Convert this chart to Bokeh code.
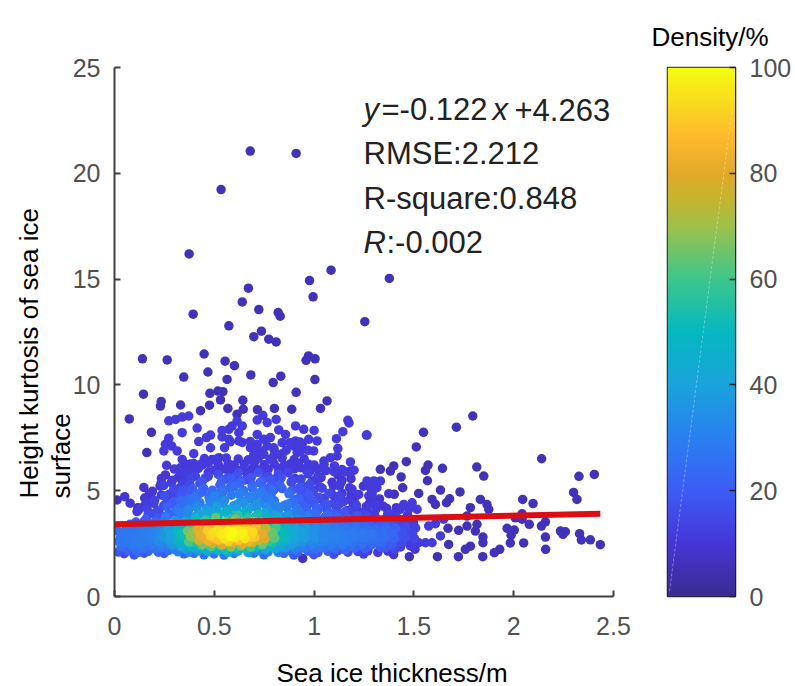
import numpy as np
from bokeh.embed import file_html
from bokeh.layouts import row
from bokeh.models import ColumnDataSource, FixedTicker, Label, LinearColorMapper, Range1d, LinearAxis, Title
from bokeh.plotting import figure
from bokeh.resources import INLINE
from bokeh.transform import transform

FONT = "Liberation Sans"

# Sparse outliers (deep purple)
outer_x = [.68,.91,.534,.374,1.085,.977,1.377,.671,.995,.64,.723,.394,.82,.83,.573,1.254,.736,.698,.773,.81,
           .14,.264,.449,.554,.601,.468,.347,.564,.683,.833,.795,.972,.96,1.005,1.004,.145,.91,.478,.518,.543,
           .531,.643,.234,.23,.331,.476,.431,.568,.645,.614,.716,.801,.888,1.065,1.032,.074,.185,.162,
           1.795,1.713,1.548,1.265,1.512,1.462,1.332,1.399,1.382,1.436,1.571,1.558,1.568,1.643,1.815,1.85,2.14,2.327,2.404,
           1.633,1.731,1.444,1.402,1.524,2.30,2.317,2.045,2.097,1.833,1.866,1.591,1.608,1.679,1.663,1.783,1.875,1.766,
           2.042,2.008,2.042,2.159,2.139,2.078,1.967,2.003,1.987,1.983,2.05,2.159,2.16,2.234,2.259,2.247,2.33,2.339,2.384,2.434,
           1.93,1.903,1.846,1.846,1.845,1.783,1.758,1.723,1.618,.943,.013,.172,.26,.117,1.477,1.671,1.674,1.724,1.766,1.808,1.816]
outer_y = [21.05,20.94,19.23,16.19,15.42,14.93,15.03,14.57,14.16,13.92,13.56,13.34,13.42,13.25,12.79,12.99,12.54,12.28,12.16,12.03,
           11.23,11.18,11.46,11.12,10.91,10.61,10.37,10.26,10.47,10.41,10.11,11.37,11.16,11.23,10.25,9.56,9.65,9.6,9.71,9.68,
           9.29,9.27,9.21,9.0,9.05,9.04,8.78,8.89,8.85,8.61,8.83,8.89,8.85,9.24,8.89,8.39,7.76,6.8,
           8.53,8.0,7.76,7.63,7.07,6.37,6.01,6.17,5.93,5.65,6.21,5.96,5.47,6.06,6.12,5.69,6.51,5.68,5.77,
           5.03,4.94,5.14,4.83,4.87,4.92,4.59,4.59,4.39,4.59,4.35,4.59,4.35,4.62,4.43,4.2,4.12,3.8,
           3.91,3.72,3.65,3.53,3.33,3.41,3.22,3.14,2.9,2.53,2.53,2.81,2.23,3.09,3.06,2.94,2.97,2.67,2.68,2.45,
           2.23,2.07,2.81,2.54,1.88,2.38,2.23,1.88,1.88,1.8,4.56,4.64,4.67,4.2,1.88,3.22,2.46,3.13,3.33,3.09,3.41]

# Upper cloud (violet blue)
upper_x = [.372,.339,.306,.272,.743,.715,.765,.81,.614,.589,.64,1.169,1.175,.339,.414,.573,.539,.623,.907,.948,1.0,.823,.857,
           1.144,1.262,1.112,.481,.461,.539,.573,.623,.422,.715,.748,.781,.272,.255,.287,.247,.314,.481,.551,.681,.715,.765,.798,.84,
           .907,.94,.973,1.015,.915,.998,.898,1.119,.698,.748,.798,.84,.397,1.082,1.049,1.115,.523,.489,.339,.356,.331,.261,.397,.431,
           1.182,1.182,1.102,.973,.932,.234,1.332,1.299,1.265,1.282,1.315,1.29,1.307,1.265,1.491,1.449,1.432,1.474,1.516,
           1.574,1.608,1.649,1.558,1.524,1.591,1.633,1.482,1.482,
           .45,.5,.56,.62,.67,.72,.78,.84,.9,.95,
           .38,.44,.47,.52,.57,.6,.65,.7,.75,.8,.85,.88,.92,1.0,1.05,
           .3,.36,.42,.5,.55,.58,.63,.69,.73,.77,.82,.87,.9,.96,1.02,1.06,1.14,1.2,
           .33,.4,.47,.52,.6,.66,.71,.76,.83,.98,1.1,1.16,
           .58,.64,.68,.88,.93,.7,.74,.8,.86,.93,.97]
upper_y = [8.53,8.48,8.37,8.3,8.56,8.34,8.22,8.37,8.29,8.06,8.06,8.33,8.2,7.74,7.96,7.9,7.85,7.74,8.06,7.9,7.85,7.87,7.66,
           7.79,7.63,7.46,7.63,7.51,7.54,7.43,7.35,7.32,7.66,7.43,7.51,7.48,7.19,7.11,6.88,6.88,7.03,7.03,7.03,7.19,7.11,7.03,7.27,
           7.35,7.19,7.43,7.35,6.8,6.88,7.11,6.99,6.72,6.72,6.64,6.75,6.75,6.56,6.4,6.64,6.56,6.48,6.48,6.25,6.09,6.2,6.28,6.25,
           6.36,5.93,6.17,6.25,6.09,5.38,5.46,5.46,5.46,5.14,5.14,4.83,4.35,4.2,4.43,4.35,4.12,4.12,4.12,
           3.33,3.44,3.65,2.54,2.54,2.54,2.86,3.25,2.86,
           6.52,6.48,6.55,6.5,6.46,6.53,6.49,6.54,6.47,6.51,
           6.26,6.22,6.29,6.24,6.28,6.21,6.25,6.3,6.23,6.27,6.2,6.26,6.29,6.22,6.25,
           6.02,5.98,6.05,5.97,6.03,6.0,5.96,6.04,5.99,6.01,6.06,5.97,6.03,5.98,6.02,5.95,6.0,5.97,
           5.88,5.92,5.86,5.9,5.93,5.87,5.91,5.89,5.85,5.92,5.9,5.88,
           7.31,7.28,7.33,7.27,7.3,6.92,6.88,6.93,6.9,6.87,6.91]

OUTER_DENSITY = [6]
UPPER_DENSITY = [11]

# Dense cloud: density read at sample places, 0 where the page shows white
core_x = [.05,.10,.15,.20,.25,.30,.35,.40,.45,.50,.55,.60,.65,.70,.75,.80,.85,.90,.95,1.0,1.05,1.1,1.15,1.2,1.25,1.3,1.35,1.4,1.45,1.5]
core_y = [5.75,5.5,5.25,5.0,4.75,4.5,4.25,4.0,3.75,3.5,3.25,3.0,2.75,2.5,2.25,2.0]
core_x_nudge = [.02,-.015,.028,-.01,.024,-.022,.012,-.028,.018,-.006,.022,-.016,.008,-.02,.014,-.004]
core_y_nudge = [.06,-.09,.11,-.03,.08,-.12,.04,.1,-.07,.02,-.11,.09,-.04,.12,-.08,.03,.1,-.1,.05,-.06,.12,-.02,-.11,.07,.01,-.09,.11,-.05,.08,-.03]
core_density = [
 [0,0,0,0,0,10,12,0,14,16,16,17,0,17,16,15,14,0,13,12,0,10,0,0,0,0,0,0,0,0],
 [0,0,0,0,9,11,0,14,18,0,20,20,20,18,0,18,17,15,14,0,11,0,10,9,0,0,0,0,0,0],
 [0,0,0,9,0,13,16,17,0,21,23,23,0,23,21,21,0,18,16,13,0,11,10,0,10,0,0,0,0,0],
 [0,0,0,10,0,14,17,20,22,24,26,0,28,26,26,24,22,0,17,16,14,0,11,11,0,10,0,0,0,0],
 [0,0,9,0,12,16,20,24,26,28,0,30,30,30,28,0,26,22,19,16,15,14,0,11,10,0,9,0,0,0],
 [0,9,0,10,0,18,24,26,28,30,32,0,34,32,32,30,0,24,21,18,16,0,14,11,0,10,9,0,0,0],
 [0,0,12,0,14,21,26,30,32,34,36,36,36,36,34,32,30,27,0,21,18,16,0,14,11,10,0,9,0,0],
 [0,0,12,14,16,23,29,33,36,40,42,43,43,40,38,36,32,29,27,23,20,18,16,14,12,11,0,10,0,0],
 [0,0,16,18,21,27,33,39,45,51,55,57,57,53,49,43,37,33,30,26,24,22,20,18,16,14,12,13,10,0],
 [0,0,20,23,26,32,40,50,60,68,74,78,76,70,60,50,42,37,33,30,28,26,24,22,20,18,17,15,12,10],
 [24,26,27,29,32,38,48,64,78,86,92,95,93,86,74,60,48,41,37,34,31,29,27,26,25,24,23,21,16,13],
 [27,28,29,31,35,41,53,69,83,93,97,100,98,93,81,65,51,44,39,35,32,31,30,29,28,27,25,23,17,14],
 [28,29,30,31,35,41,51,67,81,89,95,97,95,89,79,63,51,42,38,35,32,31,30,29,27,26,25,22,17,14],
 [27,28,29,29,32,37,45,55,67,75,79,81,81,75,65,53,43,38,34,31,30,29,28,27,25,24,23,19,15,12],
 [22,25,26,26,26,30,37,42,47,51,53,55,53,49,43,39,36,30,27,26,25,24,23,22,20,0,18,15,0,10],
 [14,18,18,0,18,0,22,24,26,26,28,28,0,26,24,0,22,18,0,18,0,16,0,0,13,0,0,10,0,0],
]

# Second reading, between the first one's places
core2_x = [.025,.075,.125,.175,.225,.275,.325,.375,.425,.475,.525,.575,.625,.675,.725,.775,.825,.875,.925,.975,1.025,1.075,1.125,1.175,1.225,1.275,1.325,1.375,1.425,1.475]
core2_y = [5.625,5.375,5.125,4.875,4.625,4.375,4.125,3.875,3.625,3.375,3.125,2.875,2.625,2.375,2.125]
core2_density = [
 [0,0,0,0,0,9,0,11,13,14,0,16,15,15,0,14,13,0,12,0,10,0,0,0,0,0,0,0,0,0],
 [0,0,0,0,9,11,13,0,17,0,20,21,0,20,19,18,0,15,0,12,0,10,9,0,0,0,0,0,0,0],
 [0,0,0,9,0,13,15,18,0,22,0,24,25,24,0,22,20,0,16,14,12,0,10,0,0,9,0,0,0,0],
 [0,0,0,10,12,0,18,0,23,25,27,28,29,0,27,25,0,20,17,15,0,12,0,10,0,0,0,0,0,0],
 [0,9,0,10,13,17,0,25,27,0,31,32,0,31,30,28,25,0,20,17,15,13,11,0,10,0,0,0,0,0],
 [0,0,11,12,15,20,25,28,0,32,34,35,35,34,0,31,28,25,21,19,17,15,13,12,0,10,9,0,0,0],
 [0,0,11,13,15,21,27,31,34,37,39,39,39,38,36,33,30,27,25,21,19,17,15,13,11,10,0,9,0,0],
 [0,0,0,16,18,23,29,35,40,45,48,49,49,47,43,39,33,30,27,24,22,20,18,16,14,12,0,11,0,0],
 [0,0,18,20,23,29,36,44,52,59,64,66,65,61,54,46,39,34,30,27,25,23,21,19,17,15,13,12,10,0],
 [0,22,24,26,29,35,44,56,68,77,83,86,85,78,67,55,45,38,34,31,29,27,25,24,22,21,20,18,14,11],
 [26,27,28,30,33,39,50,66,81,90,95,98,96,89,78,62,49,42,37,34,31,29,28,27,26,25,24,22,16,13],
 [27,28,29,31,35,41,52,68,83,91,96,99,97,91,80,64,51,43,38,35,32,30,29,28,27,26,24,22,17,14],
 [27,28,29,30,33,39,48,61,75,83,88,90,89,83,73,59,47,40,36,33,31,30,29,28,26,25,24,20,15,12],
 [25,26,27,27,29,34,41,48,57,63,66,67,67,61,54,46,39,34,30,28,27,26,25,24,22,20,19,17,12,10],
 [18,21,22,22,22,26,30,33,37,39,41,42,40,38,34,30,29,24,21,21,19,19,16,15,14,12,11,10,0,0],
]

fit_x = [0.0, 2.434]
fit_y = [3.41, 3.91]

x_ticks = [0, 0.5, 1, 1.5, 2, 2.5]
x_tick_labels = {0: "0", 0.5: "0.5", 1: "1", 1.5: "1.5", 2: "2", 2.5: "2.5"}
y_ticks = [0, 5, 10, 15, 20, 25]
bar_ticks = [0, 20, 40, 60, 80, 100]

# Colour scale
stop_pos = [0, 10, 20, 30, 40, 50, 60, 70, 75, 80, 87, 93, 100]
stop_rgb = [(59,44,143),(70,54,216),(61,92,245),(42,128,240),(26,163,220),(5,184,192),
            (60,198,140),(156,194,74),(196,181,46),(224,170,40),(255,185,44),(248,216,32),(246,251,16)]
lvl = np.linspace(0, 100, 256)
rgb = np.array(stop_rgb, dtype=float)
palette = ["#%02x%02x%02x" % tuple(int(round(np.interp(v, stop_pos, rgb[:, i]))) for i in range(3)) for v in lvl]
mapper = LinearColorMapper(palette=palette, low=0, high=100)

xs, ys, ds = [], [], []
for xv, yv in zip(outer_x, outer_y):
    xs.append(xv); ys.append(yv); ds.append(OUTER_DENSITY[0])
for xv, yv in zip(upper_x, upper_y):
    xs.append(xv); ys.append(yv); ds.append(UPPER_DENSITY[0])
for r, (yv, vals) in enumerate(zip(core_y, core_density)):
    for c, (xv, d) in enumerate(zip(core_x, vals)):
        if d > 0:
            k = 1.0 if yv > 3.6 else 0.4
            xs.append(xv + core_x_nudge[r] * k); ys.append(yv + core_y_nudge[c] * k); ds.append(d)
for r, (yv, vals) in enumerate(zip(core2_y, core2_density)):
    for c, (xv, d) in enumerate(zip(core2_x, vals)):
        if d > 0:
            k = 1.0 if yv > 3.6 else 0.4
            xs.append(xv - core_x_nudge[r] * k); ys.append(yv - core_y_nudge[c] * k); ds.append(d)
order = np.argsort(ds, kind="stable")
src = ColumnDataSource(dict(x=np.array(xs)[order], y=np.array(ys)[order], d=np.array(ds)[order]))

TICK = "#505050"
HEIGHT = 686
FRAME_BOTTOM = 596
P_LEFT = 114
Q_LEFT = 667
p = figure(width=648, height=HEIGHT, frame_width=499, frame_height=529,
           output_backend="svg", toolbar_location=None,
           x_range=Range1d(0, 2.5), y_range=Range1d(0, 25),
           min_border_left=114, min_border_right=35, min_border_top=67, min_border_bottom=HEIGHT - FRAME_BOTTOM)
p.grid.visible = False
p.outline_line_color = None
p.background_fill_color = "white"

p.scatter("x", "y", source=src, size=9.5, line_color=None,
          fill_color=transform("d", mapper))
p.line(fit_x, fit_y, line_color="#dc0e14", line_width=6)

for ax in (p.xaxis[0], p.yaxis[0]):
    ax.axis_line_color = "#404040"
    ax.axis_line_width = 2
    ax.major_tick_line_color = "#404040"
    ax.major_tick_line_width = 2
    ax.major_tick_in = 6
    ax.major_tick_out = 0
    ax.minor_tick_line_color = None
    ax.major_label_text_font = FONT
    ax.major_label_text_font_size = "25px"
    ax.major_label_text_color = TICK

p.xaxis[0].ticker = FixedTicker(ticks=x_ticks)
p.xaxis[0].major_label_overrides = x_tick_labels
p.xaxis[0].major_label_standoff = 20
p.yaxis[0].ticker = FixedTicker(ticks=y_ticks)
p.yaxis[0].major_label_standoff = 14


def lab(fig, left, text, px, py, size, style="normal", color="#222222"):
    # px, py are places on the page; annotations count from the frame's lower left corner
    fig.add_layout(Label(x=px - left, y=FRAME_BOTTOM - py, x_units="screen", y_units="screen", text=text,
                         text_font=FONT, text_font_size=size, text_font_style=style,
                         text_color=color, text_baseline="alphabetic"))


def side_title(fig, text, side, offset, standoff, size="26px"):
    fig.add_layout(Title(text=text, align="left", offset=offset, standoff=standoff,
                         text_font=FONT, text_font_size=size, text_font_style="normal",
                         text_color="black"), side)


side_title(p, "Sea ice thickness/m", "below", 162, 36)
side_title(p, "surface", "left", 98, -13)
side_title(p, "Height kurtosis of sea ice", "left", 98, 13)

fs = "31px"
lab(p, P_LEFT, "y", 363, 109, fs, "italic")
lab(p, P_LEFT, "=-0.122", 381, 109, fs)
lab(p, P_LEFT, "x", 492, 109, fs, "italic")
lab(p, P_LEFT, "+4.263", 514, 109, fs)
lab(p, P_LEFT, "RMSE:2.212", 363, 153, fs)
lab(p, P_LEFT, "R-square:0.848", 363, 198, fs)
lab(p, P_LEFT, "R", 363, 242, fs, "italic")
lab(p, P_LEFT, ":-0.002", 386, 242, fs)

# Colour bar as its own small panel
bar_levels = np.linspace(0, 100, 256).reshape(-1, 1)
q = figure(width=147, height=HEIGHT, frame_width=68, frame_height=529,
           output_backend="svg", toolbar_location=None,
           x_range=Range1d(0, 1), y_range=Range1d(0, 100),
           min_border_left=19, min_border_right=60, min_border_top=67, min_border_bottom=HEIGHT - FRAME_BOTTOM)
q.grid.visible = False
q.xaxis.visible = False
q.yaxis.visible = False
q.image(image=[bar_levels], x=0, y=0, dw=1, dh=100, color_mapper=mapper)
q.line([0.03, 0.95], [1, 92], line_color="white", line_alpha=0.35, line_width=1, line_dash="3 2")
q.outline_line_color = "#222222"
q.outline_line_width = 1.5

bar_axis = LinearAxis(ticker=FixedTicker(ticks=bar_ticks))
bar_axis.axis_line_color = "#222222"
bar_axis.major_tick_in = 6
bar_axis.major_tick_out = 0
bar_axis.major_tick_line_color = "#222222"
bar_axis.major_tick_line_width = 1.5
bar_axis.minor_tick_line_color = None
bar_axis.major_label_text_font = FONT
bar_axis.major_label_text_font_size = "25px"
bar_axis.major_label_text_color = TICK
bar_axis.major_label_standoff = 14
q.add_layout(bar_axis, "right")

side_title(q, "Density/%", "above", -16, 32, "26px")

open("out.html", "w").write(file_html(row(p, q, spacing=0), INLINE))
